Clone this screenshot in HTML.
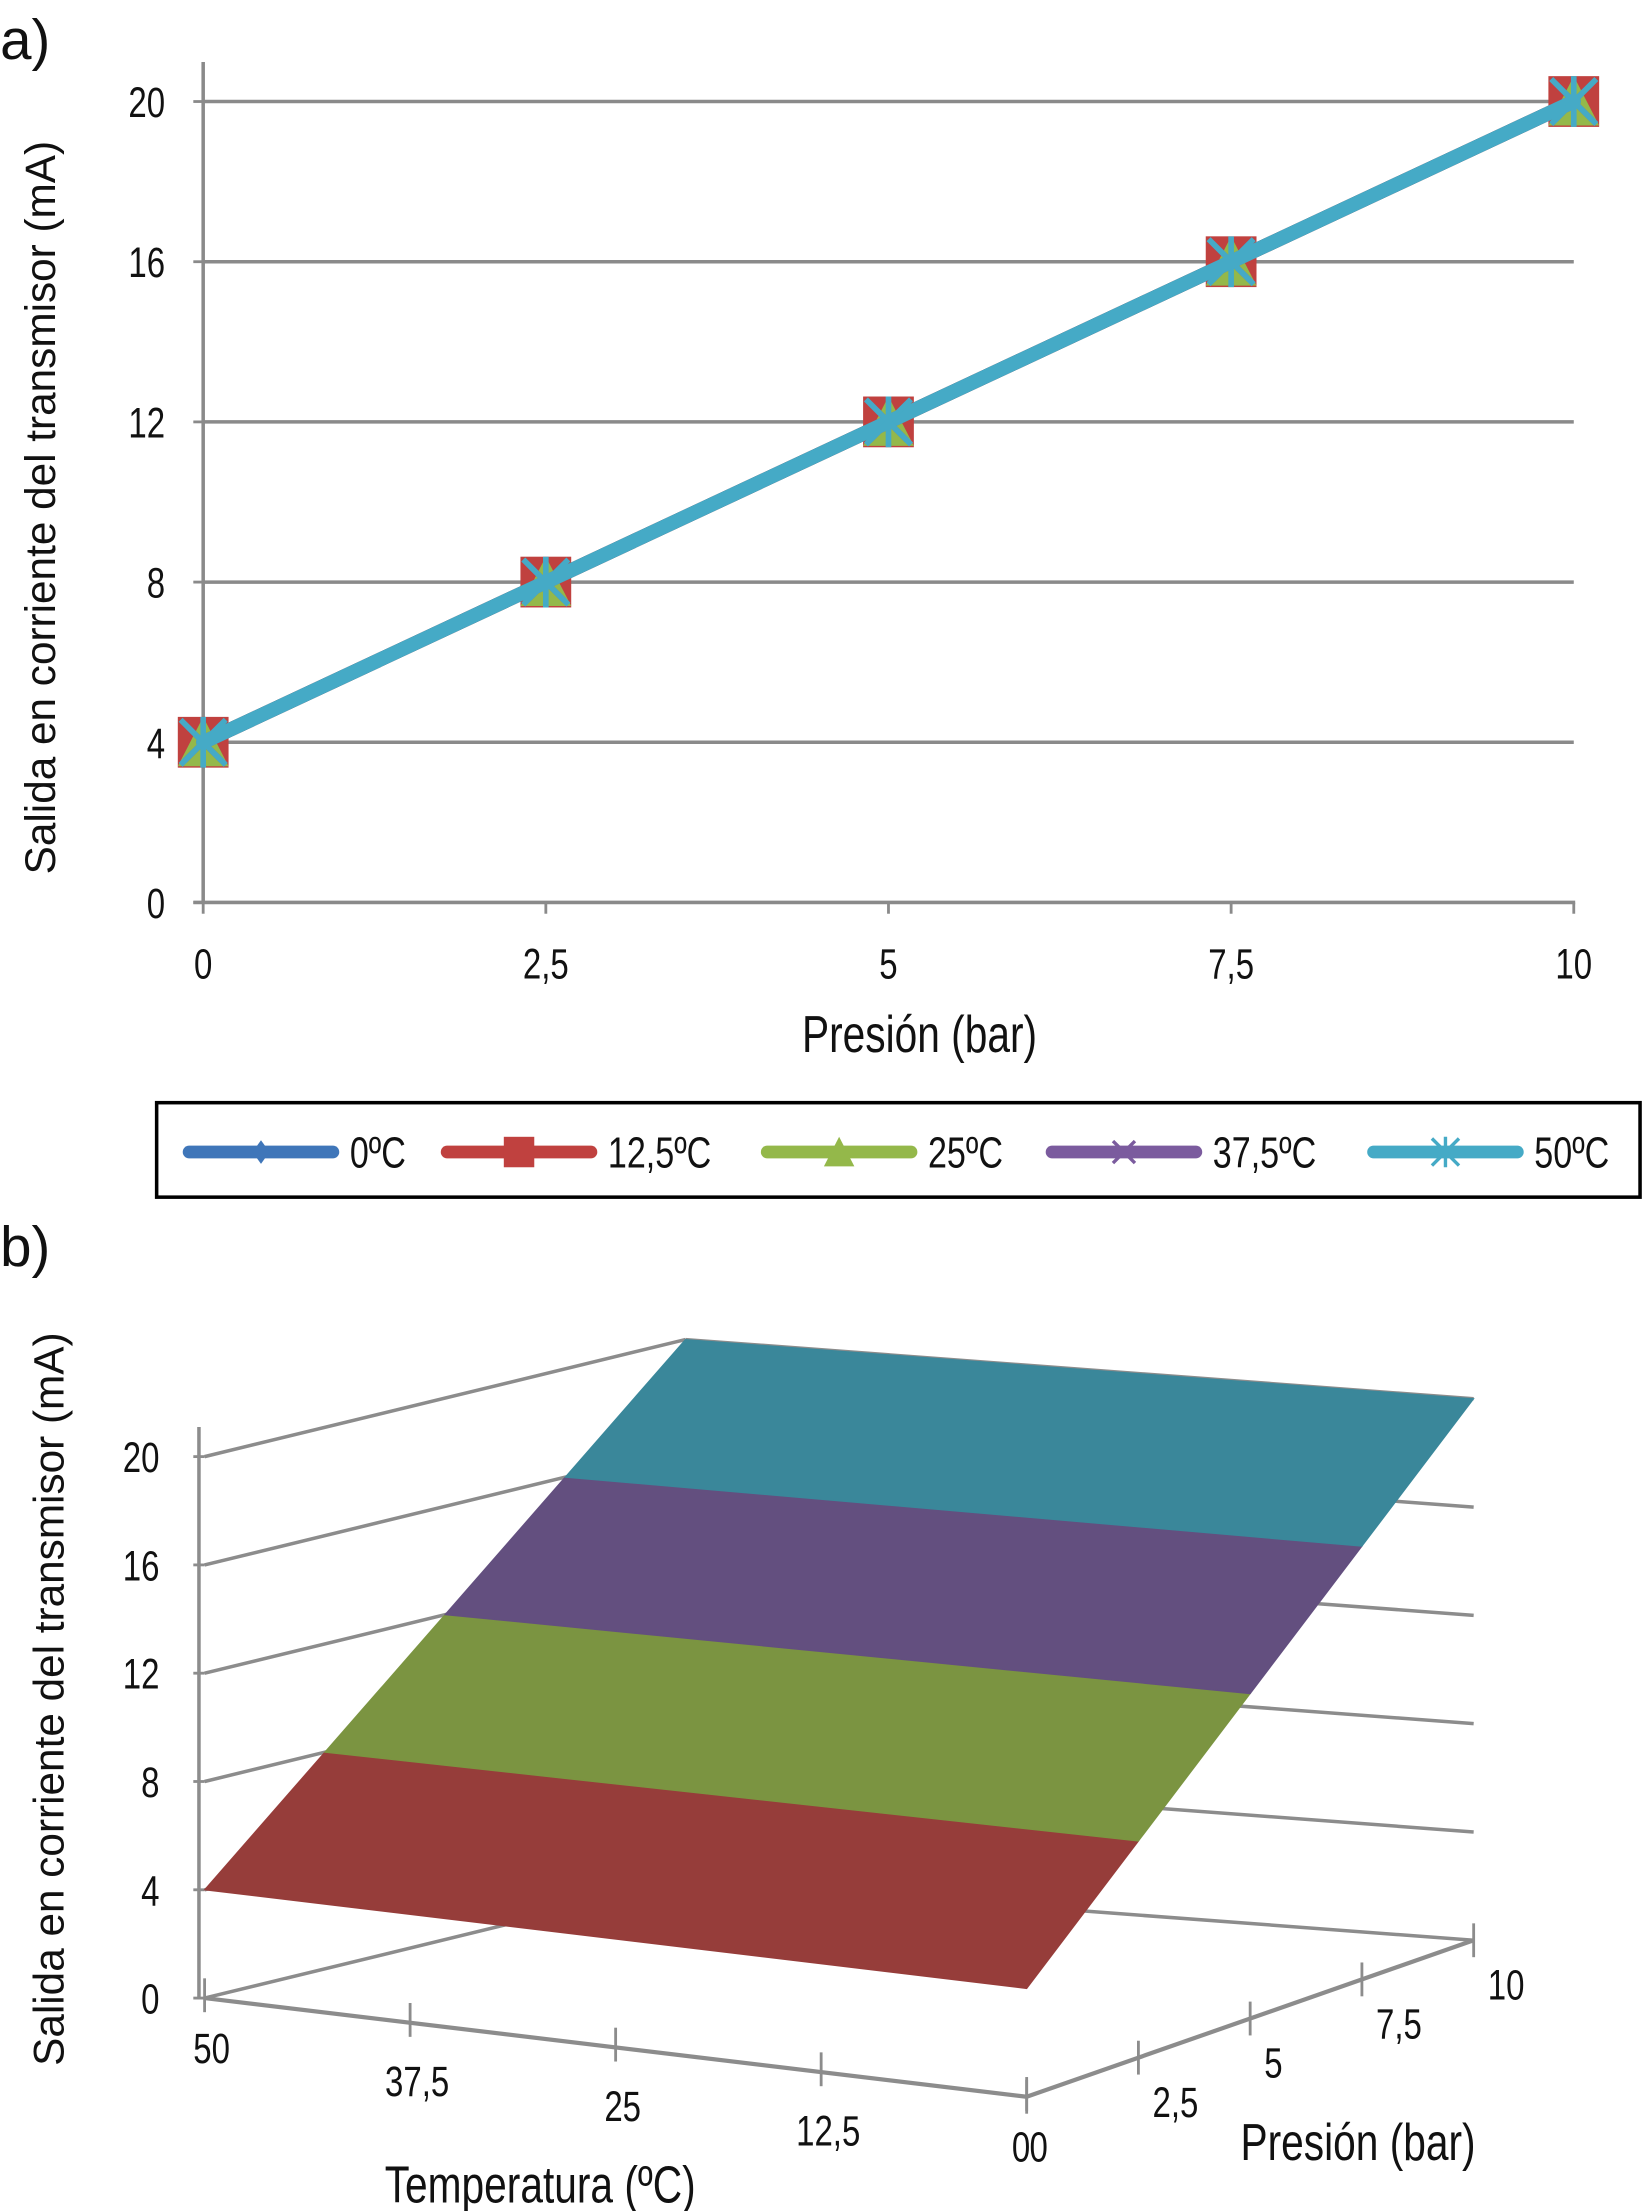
<!DOCTYPE html>
<html><head><meta charset="utf-8"><style>
html,body{margin:0;padding:0;background:#fff;}
svg{display:block;}
text{font-family:"Liberation Sans",sans-serif;fill:#111;}
</style></head><body>
<svg id="fig" width="1643" height="2211" viewBox="0 0 1165 1568" xmlns="http://www.w3.org/2000/svg">
<g id="ga"></g>
<g id="gleg"></g>
<g id="gb"></g>
</svg>
<script>
var pressures = [0, 2.5, 5, 7.5, 10];
var pressureLabels = ["0", "2,5", "5", "7,5", "10"];
var yTicks = [0, 4, 8, 12, 16, 20];
var seriesNames = ["0ºC", "12,5ºC", "25ºC", "37,5ºC", "50ºC"];
var seriesColors = ["#3f76b9", "#c0413f", "#94b84a", "#7b5b9e", "#45aac6"];
var s0 = [4, 8, 12, 16, 20];
var s12 = [4, 8, 12, 16, 20];
var s25 = [4, 8, 12, 16, 20];
var s37 = [4, 8, 12, 16, 20];
var s50 = [4, 8, 12, 16, 20];
var seriesValues = [s0, s12, s25, s37, s50];
var temperatures = [50, 37.5, 25, 12.5, 0];
var tempLabels = ["50", "37,5", "25", "12,5", "0"];
var bandColors = ["#963d3a", "#7b9441", "#634f7f", "#3a879a"];

var NS = "http://www.w3.org/2000/svg";
function mk(parent, tag, attrs, txt){
  var e = document.createElementNS(NS, tag);
  for (var k in attrs) e.setAttribute(k, attrs[k]);
  if (txt !== undefined) e.textContent = txt;
  parent.appendChild(e); return e;
}
// narrow text: scaled horizontally
function nt(parent, x, y, size, anchor, str){
  return mk(parent,'text',{x:0,y:0,'font-size':size,'text-anchor':anchor,transform:'translate('+x+' '+y+') scale(0.78 1)'},str);
}
// ---------- chart a ----------
var ga = document.getElementById('ga');
function ax(p){ return 144 + (p/10)*(1116-144); }
function ay(v){ return 640 - (v/20)*(640-72); }
var t = mk(ga,'text',{x:0,y:42,'font-size':40},'a)');


yTicks.forEach(function(v){
  if (v>0){
    var l = mk(ga,'line',{x1:144,x2:1116,y1:ay(v),y2:ay(v),stroke:'#8a8a8a','stroke-width':2.5});
    
    
  }
  var tk = mk(ga,'line',{x1:137,x2:144,y1:ay(v),y2:ay(v),stroke:'#8a8a8a','stroke-width':2});
  
  
  var tl = nt(ga,117,ay(v)+11,30,'end',String(v));
  
  
});
var yax = mk(ga,'line',{x1:144,x2:144,y1:44,y2:641,stroke:'#8a8a8a','stroke-width':2.5});


var xax = mk(ga,'line',{x1:137,x2:1117,y1:640,y2:640,stroke:'#8a8a8a','stroke-width':2.5});


pressures.forEach(function(p,i){
  var tk = mk(ga,'line',{x1:ax(p),x2:ax(p),y1:640,y2:648,stroke:'#8a8a8a','stroke-width':2});
  
  
  var tl = nt(ga,ax(p),694,30,'middle',pressureLabels[i]);
  
  
});
var xt = nt(ga,652,746,37,'middle','Presión (bar)');


var yt = mk(ga,'text',{x:0,y:0,'font-size':30,'text-anchor':'middle',transform:'translate(39,360) rotate(-90)'},'Salida en corriente del transmisor (mA)');


function marker(g, k, x, y){
  var c = seriesColors[k], m;
  if (k===0) m = mk(g,'path',{d:'M'+x+' '+(y-14)+'L'+(x+10)+' '+y+'L'+x+' '+(y+14)+'L'+(x-10)+' '+y+'Z',fill:c});
  else if (k===1) m = mk(g,'rect',{x:x-18,y:y-18,width:36,height:36,fill:c});
  else if (k===2) m = mk(g,'path',{d:'M'+x+' '+(y-18)+'L'+(x+18)+' '+(y+17)+'L'+(x-18)+' '+(y+17)+'Z',fill:c});
  else if (k===3) m = mk(g,'path',{d:'M'+(x-13)+' '+(y-13)+'L'+(x+13)+' '+(y+13)+'M'+(x+13)+' '+(y-13)+'L'+(x-13)+' '+(y+13),stroke:c,'stroke-width':4,fill:'none'});
  else m = mk(g,'path',{d:'M'+(x-16)+' '+(y-16)+'L'+(x+16)+' '+(y+16)+'M'+(x+16)+' '+(y-16)+'L'+(x-16)+' '+(y+16)+'M'+x+' '+(y-18)+'L'+x+' '+(y+18),stroke:c,'stroke-width':4,fill:'none'});
  return m;
}
seriesValues.forEach(function(vals,k){
  var g = mk(ga,'g',{});
  
  
  var d = vals.map(function(v,i){return (i?'L':'M')+ax(pressures[i])+' '+ay(v);}).join('');
  var ln = mk(g,'path',{d:d,fill:'none',stroke:seriesColors[k],'stroke-width':10,'stroke-linecap':'round'});
  
  
  vals.forEach(function(v,i){
    var m = marker(g,k,ax(pressures[i]),ay(v));
    
    
  });
});
// ---------- legend ----------
var gl = document.getElementById('gleg');
var lb = mk(gl,'rect',{x:111,y:782,width:1052,height:67,fill:'#fff',stroke:'#000','stroke-width':2.5});


var legX = [130, 313, 540, 742, 970];
seriesNames.forEach(function(n,k){
  var g = mk(gl,'g',{});
  
  
  mk(g,'line',{x1:legX[k]+4,x2:legX[k]+106,y1:817,y2:817,stroke:seriesColors[k],'stroke-width':9,'stroke-linecap':'round'});
  var sc = 0.6;
  var m = marker(g,k,legX[k]+55,817);
  m.setAttribute('transform','translate('+((legX[k]+55)*(1-sc))+' '+(817*(1-sc))+') scale('+sc+')');
  nt(g,legX[k]+118,828,31,'start',n);
});
// ---------- chart b ----------
var gb = document.getElementById('gb');
var FL=[145,1417], FR=[728,1487], BL=[486,1334], BR=[1045,1376];
var ZS = 19.2;
function proj(T,P,Z){
  var u=(50-T)/50, v=P/10;
  var fx=FL[0]+(FR[0]-FL[0])*u, fy=FL[1]+(FR[1]-FL[1])*u;
  var bx=BL[0]+(BR[0]-BL[0])*u, by=BL[1]+(BR[1]-BL[1])*u;
  return [fx+(bx-fx)*v, fy+(by-fy)*v - Z*ZS];
}
function pl(g,a,b,w,nm){
  var l = mk(g,'line',{x1:a[0],y1:a[1],x2:b[0],y2:b[1],stroke:'#8c8c8c','stroke-width':w||2.5});
  
  
  return l;
}
var tb = mk(gb,'text',{x:0,y:898,'font-size':40},'b)');


yTicks.forEach(function(v){
  pl(gb,proj(50,0,v),proj(50,10,v),2.5,'left-wall-gridline');
  pl(gb,proj(50,10,v),proj(0,10,v),2.5,'back-wall-gridline');
  pl(gb,[FL[0]-8,proj(50,0,v)[1]],proj(50,0,v),2,'z-tick');
  var tl = nt(gb,113,proj(50,0,v)[1]+11,30,'end',String(v));
  
  
});
pl(gb,[FL[0]-4,FL[1]],[FL[0]-4,FL[1]-405],2.5,'z-axis');
var surf = mk(gb,'g',{});


for (var i=0;i<pressures.length-1;i++){
  var T0=temperatures[0], T1=temperatures[temperatures.length-1];
  var pts=[proj(T0,pressures[i],seriesValues[4][i]),proj(T1,pressures[i],seriesValues[0][i]),proj(T1,pressures[i+1],seriesValues[0][i+1]),proj(T0,pressures[i+1],seriesValues[4][i+1])];
  var poly = mk(surf,'polygon',{points:pts.map(function(p){return p.join(',');}).join(' '),fill:bandColors[i],stroke:bandColors[i],'stroke-width':0.8});
  
  
}
pl(gb,proj(50,0,0),proj(0,0,0),3,'temperature-axis');
pl(gb,proj(0,0,0),proj(0,10,0),3,'pressure-axis');
temperatures.forEach(function(T,i){
  var p = proj(T,0,0);
  pl(gb,[p[0],p[1]-14],[p[0],p[1]+10],2,'temperature-tick');
  var tl = nt(gb,p[0]+(i===4?-4:5),p[1]+(i===0?46:i===4?46:52),30,'middle',tempLabels[i]);
  
  
});
pressures.forEach(function(P,i){
  var p = proj(0,P,0);
  pl(gb,[p[0],p[1]-12],[p[0],p[1]+12],2,'pressure-tick');
  var tl = nt(gb,p[0]+(i===0?2:10),p[1]+(i===0?46:42),30,'start',pressureLabels[i]);
  
  
});
var tt = nt(gb,383,1562,37,'middle','Temperatura (ºC)');


var pt = nt(gb,963,1532,37,'middle','Presión (bar)');


var zt = mk(gb,'text',{x:0,y:0,'font-size':30,'text-anchor':'middle',transform:'translate(45,1205) rotate(-90)'},'Salida en corriente del transmisor (mA)');


</script>
</body></html>
